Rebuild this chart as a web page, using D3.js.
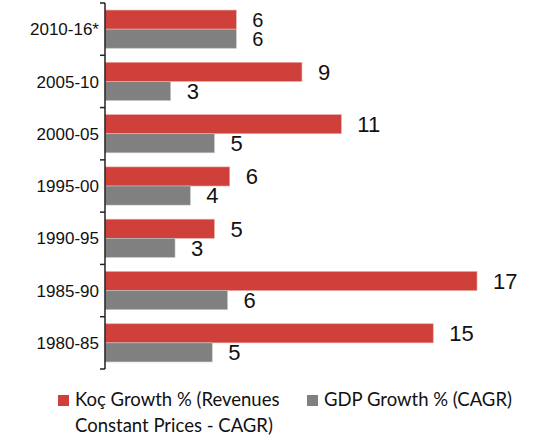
<!DOCTYPE html>
<html>
<head>
<meta charset="utf-8">
<script src="https://cdn.jsdelivr.net/npm/d3@7"></script>
<style>
  body { margin: 0; background: #fff; }
  svg { display: block; }
</style>
</head>
<body>
<div id="chart"></div>
<script>
// Chart data (bar lengths; labels are the rounded values)
const periods = ["2010-16*", "2005-10", "2000-05", "1995-00", "1990-95", "1985-90", "1980-85"];
const kocGrowth = [6.0, 9.0, 10.8, 5.7, 5.0, 17.0, 15.0];
const gdpGrowth = [6.0, 3.0, 5.0, 3.9, 3.2, 5.6, 4.9];
const seriesNames = ["Koç Growth % (Revenues Constant Prices - CAGR)", "GDP Growth % (CAGR)"];
const seriesKeys = ["koc", "gdp"];
const seriesColors = ["#d0403a", "#808080"];

const width = 539, height = 437;

const svg = d3.select("#chart")
    .append("svg")
    .attr("width", width)
    .attr("height", height);

// Scales
const y = d3.scaleBand()
    .domain(periods)
    .range([3, 369])
    .padding(0);

const ySub = d3.scaleBand()
    .domain(seriesKeys)
    .range([0, y.bandwidth()])
    .paddingInner(0)
    .paddingOuter(0.37);

const x = d3.scaleLinear()
    .domain([0, 17])
    .range([105, 477]);

const fmt = d3.format(".0f");
const rows = periods.map((p, i) => ({ period: p, koc: kocGrowth[i], gdp: gdpGrowth[i] }));

// Bars
const groups = svg.selectAll("g.row")
    .data(rows)
    .enter().append("g")
    .attr("class", "row")
    .attr("transform", d => `translate(0,${y(d.period)})`);

seriesKeys.forEach((key, k) => {
    groups.append("rect")
        .attr("x", x(0))
        .attr("y", ySub(key))
        .attr("width", d => x(d[key]) - x(0))
        .attr("height", ySub.bandwidth())
        .attr("fill", seriesColors[k])
        .attr("stroke", k === 0 ? "#eaa6a2" : "#c4c4c4")
        .attr("stroke-width", 0.6);

    // top row labels sit tight together, so they are a bit smaller
    groups.append("text")
        .attr("x", d => x(d[key]) + 16)
        .attr("y", ySub(key) + ySub.bandwidth() / 2)
        .attr("dy", "0.36em")
        .style("font-family", "'Liberation Sans', Arial, sans-serif")
        .style("font-size", (d, i) => i === 0 ? "20px" : "22px")
        .attr("fill", "#111")
        .text(d => fmt(d[key]));
});

// Left axis: line with ticks at band boundaries, labels at band centres
const axis = svg.append("g");
axis.append("line")
    .attr("x1", x(0)).attr("x2", x(0))
    .attr("y1", y.range()[0]).attr("y2", y.range()[1])
    .attr("stroke", "#222")
    .attr("stroke-width", 1.5);

const boundaries = periods.map(p => y(p)).concat([y.range()[1]]);
axis.selectAll("line.tick")
    .data(boundaries)
    .enter().append("line")
    .attr("class", "tick")
    .attr("x1", x(0) - 5).attr("x2", x(0))
    .attr("y1", d => d).attr("y2", d => d)
    .attr("stroke", "#222")
    .attr("stroke-width", 1.5);

axis.selectAll("text")
    .data(periods)
    .enter().append("text")
    .attr("x", 99)
    .attr("y", d => y(d) + y.bandwidth() / 2)
    .attr("dy", "0.36em")
    .attr("text-anchor", "end")
    .style("font-family", "'Liberation Sans', Arial, sans-serif")
    .style("font-size", "17px")
    .attr("fill", "#111")
    .text(d => d);

// Legend
const legendFont = "Lato, 'Open Sans', sans-serif";
const legend = svg.append("g");

legend.append("rect")
    .attr("x", 58).attr("y", 395)
    .attr("width", 11).attr("height", 11)
    .attr("fill", seriesColors[0]);

const t1 = legend.append("text")
    .attr("x", 75).attr("y", 405.5)
    .style("font-family", legendFont)
    .style("font-size", "18.5px")
    .attr("fill", "#111");
t1.append("tspan").attr("x", 75).text("Koç Growth % (Revenues");
t1.append("tspan").attr("x", 75).attr("dy", 26.7).text("Constant Prices - CAGR)");

legend.append("rect")
    .attr("x", 307).attr("y", 395)
    .attr("width", 11).attr("height", 11)
    .attr("fill", seriesColors[1]);

legend.append("text")
    .attr("x", 324).attr("y", 405.5)
    .style("font-family", legendFont)
    .style("font-size", "18.5px")
    .attr("fill", "#111")
    .text(seriesNames[1]);
</script>
</body>
</html>
